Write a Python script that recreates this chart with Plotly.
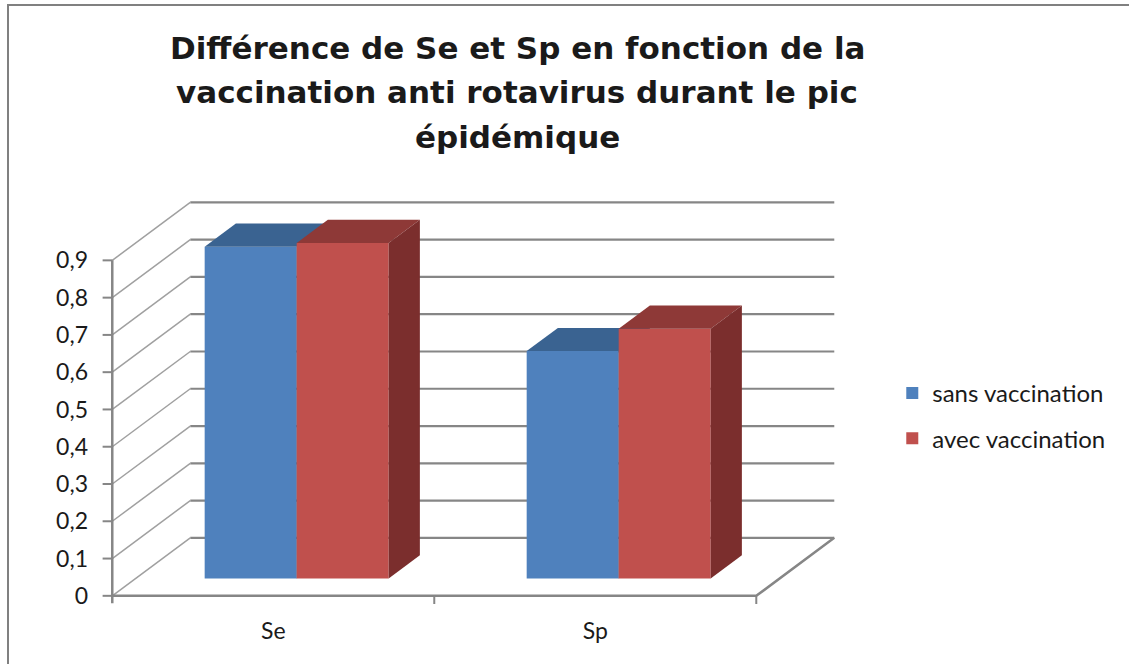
import plotly.graph_objects as go

# ---------------- data ----------------
categories = ["Se", "Sp"]
series_names = ["sans vaccination", "avec vaccination"]
sans_vaccination = [0.89, 0.61]
avec_vaccination = [0.90, 0.67]
tick_values = [0, 0.1, 0.2, 0.3, 0.4, 0.5, 0.6, 0.7, 0.8, 0.9]
tick_labels = ["0", "0,1", "0,2", "0,3", "0,4", "0,5", "0,6", "0,7", "0,8", "0,9"]
title_lines = ["Différence de Se et Sp en fonction de la",
               "vaccination anti rotavirus durant le pic",
               "épidémique"]

# ---------------- style / geometry ----------------
front_colors = ["#4F81BD", "#C0504D"]
top_colors = ["#3A6391", "#8E3937"]
side_colors = ["#2E4F78", "#7B2E2D"]
grid_color = "#868686"
wall_color = "#A0A0A0"

W_FIG, H_FIG = 1129, 664
PX_X, PX_Y = 322.0, 373.0          # pixels per data unit
X0_PX, Y0_PX = 112.0, 596.0        # pixel of data origin (front axis, value 0)
XR = [-0.035, 2.26]
YR = [-0.03, 1.07]
L = X0_PX + XR[0] * PX_X
R = L + (XR[1] - XR[0]) * PX_X
B = Y0_PX - YR[0] * PX_Y
T = B - (YR[1] - YR[0]) * PX_Y

DX, DY = 78 / PX_X, 58 / PX_Y      # full depth offset (data units)
D0, DB = 0.3, 0.4                  # bar front depth / bar thickness (fraction)
BW = 92 / PX_X                     # bar width
n_cat = len(categories)
YMAX = tick_values[-1]


def pxx(p):
    return (p - L) / (R - L)


def pxy(p):
    return (B - p) / (B - T)


fig = go.Figure()

# back wall gridlines
gx, gy = [], []
for v in tick_values:
    gx += [DX, n_cat + DX, None]
    gy += [v + DY, v + DY, None]
fig.add_trace(go.Scatter(x=gx, y=gy, mode="lines", line=dict(color=grid_color, width=2.2),
                         hoverinfo="skip", showlegend=False, zorder=0))
# side wall diagonals
dx_, dy_ = [], []
for v in tick_values:
    dx_ += [0, DX, None]
    dy_ += [v, v + DY, None]
fig.add_trace(go.Scatter(x=dx_, y=dy_, mode="lines", line=dict(color=wall_color, width=1.5),
                         hoverinfo="skip", showlegend=False, zorder=0))
# floor: front edge, right edge, axis line, ticks
fig.add_trace(go.Scatter(x=[0, n_cat, n_cat + DX], y=[0, 0, DY], mode="lines",
                         line=dict(color=grid_color, width=2.5),
                         hoverinfo="skip", showlegend=False, zorder=0))
fig.add_trace(go.Scatter(x=[0, 0], y=[-0.02, YMAX], mode="lines",
                         line=dict(color=grid_color, width=2.5),
                         hoverinfo="skip", showlegend=False, zorder=0))
tx, ty = [], []
for v in tick_values:
    tx += [-0.03, 0, None]
    ty += [v, v, None]
for c in range(1, n_cat + 1):
    tx += [c, c, None]
    ty += [0, -0.022, None]
fig.add_trace(go.Scatter(x=tx, y=ty, mode="lines", line=dict(color=grid_color, width=2),
                         hoverinfo="skip", showlegend=False, zorder=0))

# bars (front face as bar, top & side faces as polygons)
series_values = [sans_vaccination, avec_vaccination]
base = D0 * DY
ox, oy = DB * DX, DB * DY
for s, (name, vals) in enumerate(zip(series_names, series_values)):
    z = s + 1
    centers = [i + 0.5 - BW + s * BW + BW / 2 + D0 * DX for i in range(n_cat)]
    fig.add_trace(go.Bar(x=centers, y=vals, base=[base] * n_cat, width=BW,
                         marker=dict(color=front_colors[s], line=dict(width=0)),
                         name=name, legendgroup=name, zorder=z,
                         customdata=categories,
                         hovertemplate="%{customdata}: %{y}<extra>" + name + "</extra>"))
    for i, v in enumerate(vals):
        x0 = centers[i] - BW / 2
        x1 = centers[i] + BW / 2
        t = base + v
        fig.add_trace(go.Scatter(x=[x0, x1, x1 + ox, x0 + ox, x0], y=[t, t, t + oy, t + oy, t],
                                 fill="toself", fillcolor=top_colors[s], mode="lines",
                                 line=dict(width=0, color=top_colors[s]),
                                 hoverinfo="skip", showlegend=False, legendgroup=name, zorder=z))
        fig.add_trace(go.Scatter(x=[x1, x1 + ox, x1 + ox, x1, x1], y=[base, base + oy, t + oy, t, base],
                                 fill="toself", fillcolor=side_colors[s], mode="lines",
                                 line=dict(width=0, color=side_colors[s]),
                                 hoverinfo="skip", showlegend=False, legendgroup=name, zorder=z))

# title lines
title_centers_px = [48, 92, 137]
for line, ypx in zip(title_lines, title_centers_px):
    fig.add_annotation(text=line, xref="paper", yref="paper", x=pxx(517), y=pxy(ypx),
                       xanchor="center", yanchor="middle", showarrow=False,
                       font=dict(family="DejaVu Sans", size=31, color="#1a1a1a", weight="bold"))

# chart frame: a bordered box whose right/bottom edges fall outside the page,
# so only the left and top edges show (as in the source image)
fig.add_annotation(text=" ", xref="paper", yref="paper", x=pxx(7), y=pxy(4),
                   xanchor="left", yanchor="top", showarrow=False,
                   width=1500, height=900, borderpad=0,
                   bordercolor="#808080", borderwidth=2, bgcolor="rgba(0,0,0,0)",
                   font=dict(size=10))

tick_font = dict(family="Lato", size=23, color="#1a1a1a")
fig.update_layout(
    width=W_FIG, height=H_FIG,
    margin=dict(l=L, r=W_FIG - R, t=T, b=H_FIG - B, pad=0),
    paper_bgcolor="white", plot_bgcolor="white",
    barmode="overlay",
    showlegend=True,
    legend=dict(x=pxx(892), y=pxy(371), xanchor="left", yanchor="top",
                traceorder="grouped", tracegroupgap=11,
                font=dict(family="Lato", size=24, color="#1a1a1a"),
                bgcolor="rgba(0,0,0,0)"),
    xaxis=dict(range=XR, showgrid=False, zeroline=False, showline=False,
               tickvals=[i + 0.5 for i in range(n_cat)], ticktext=categories,
               ticks="", tickfont=tick_font, ticklabelstandoff=8, fixedrange=True),
    yaxis=dict(range=YR, showgrid=False, zeroline=False, showline=False,
               tickvals=tick_values, ticktext=tick_labels,
               ticks="", tickfont=tick_font, ticklabelstandoff=12, fixedrange=True),
    font=dict(family="Lato"),
)

fig.write_html("out.html", config={"displayModeBar": False},
               post_script="document.body.style.margin='0';document.body.style.overflow='hidden';")
